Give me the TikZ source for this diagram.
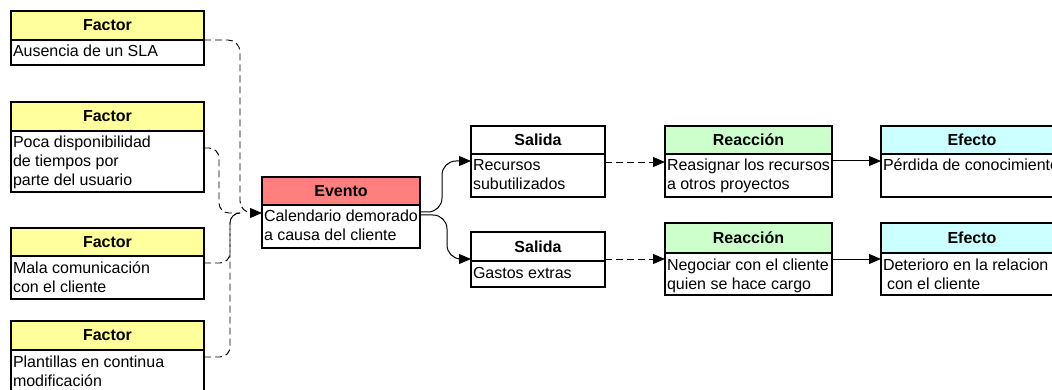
\documentclass[tikz,border=0pt]{standalone}
\usepackage{fontspec}
\setmainfont{Liberation Sans}
\usetikzlibrary{arrows.meta}

\definecolor{factorfill}{HTML}{FFFF9C}
\definecolor{eventfill}{HTML}{FF7F7F}
\definecolor{reactfill}{HTML}{CCFFCC}
\definecolor{effectfill}{HTML}{CCFFFF}

\tikzset{
  hdr/.style={draw=black, line width=1.3pt, inner sep=0pt, outer sep=0pt, anchor=north west,
              font=\fontsize{16pt}{19pt}\selectfont\bfseries},
  bdy/.style={draw=black, line width=1.3pt, fill=white, inner xsep=2pt, inner ysep=0pt,
              outer sep=0pt, anchor=north west, font=\fontsize{16pt}{19pt}\selectfont},
  link/.style={line width=1pt, -{Triangle[length=12pt,width=10pt]}},
  dashes/.style={line width=0.95pt, dash pattern=on 7pt off 4pt},
  dlink/.style={link, dashes},
}

% \infobox{name}{x}{y}{width}{header height}{body height}{fill}{title}{body text}
\newcommand\infobox[9]{%
  \node[hdr, fill=#7, minimum width=#4pt, minimum height=#5pt] (#1h) at (#2,#3) {#8};
  \node[bdy, minimum width=#4pt] (#1) at (#1h.south west)
    {\parbox[t][#6pt][t]{\dimexpr#4pt-4pt\relax}{\rule{0pt}{17pt}#9}};
}

\begin{document}
\begin{tikzpicture}[x=1pt, y=-1pt]
  \useasboundingbox (0,0) rectangle (1052,390);
  \clip (0,0) rectangle (1052,390);

  % factors
  \infobox{f1}{11}{11}{193}{29}{25}{factorfill}{Factor}{Ausencia de un SLA}
  \infobox{f2}{11}{102}{193}{29}{61}{factorfill}{Factor}{Poca disponibilidad\\de tiempos por\\parte del usuario}
  \infobox{f3}{11}{228}{193}{28}{43}{factorfill}{Factor}{Mala comunicación\\con el cliente}
  \infobox{f4}{11}{321}{193}{29}{60}{factorfill}{Factor}{Plantillas en continua\\modificación}

  % event
  \infobox{ev}{262}{177}{158}{28}{43}{eventfill}{Evento}{Calendario demorado\\a causa del cliente}

  % outputs
  \infobox{s1}{471}{126}{134}{28}{43}{white}{Salida}{Recursos\\subutilizados}
  \infobox{s2}{471}{232}{134}{29}{26}{white}{Salida}{Gastos extras}

  % reactions
  \infobox{r1}{665}{126}{167}{28}{43}{reactfill}{Reacción}{Reasignar los recursos\\a otros proyectos}
  \infobox{r2}{665}{223}{167}{30}{42}{reactfill}{Reacción}{Negociar con el cliente\\quien se hace cargo}

  % effects
  \infobox{e1}{881}{126}{182}{28}{43}{effectfill}{Efecto}{Pérdida de conocimiento}
  \infobox{e2}{881}{223}{182}{30}{42}{effectfill}{Efecto}{Deterioro en la relacion\\\hspace*{4pt}con el cliente}

  % junction points in front of the event
  \coordinate (in) at ([yshift=-8pt]ev.north west);
  \coordinate (j1) at ([xshift=-22pt]in);
  \coordinate (j2) at ([xshift=-43pt]in);
  \coordinate (j3) at ([xshift=-32pt]in);

  % factors -> event
  \draw[dlink, rounded corners=12pt] (f1.north east) -| (j1) -- (in);
  \draw[dashes, rounded corners=10pt] ([yshift=-17pt]f2.north east) -| (j2) -- (j1);
  \draw[dashes, rounded corners=10pt] ([yshift=-7pt]f3.north east) -| (j3) -- (j1);
  \draw[dashes, rounded corners=10pt] ([yshift=-7pt]f4.north east) -| (j3) -- (j1);

  % event -> outputs
  \coordinate (ea) at ([yshift=-7pt]ev.north east);
  \coordinate (eb) at ([yshift=-10pt]ev.north east);
  \coordinate (sa) at ([yshift=-7pt]s1.north west);
  \coordinate (sb) at ([yshift=2pt]s2.north west);
  \draw[link, rounded corners=14pt] (ea) -| ([xshift=22pt]ea |- sa) -- (sa);
  \draw[link, rounded corners=14pt] (eb) -| ([xshift=27pt]eb |- sb) -- (sb);

  % outputs -> reactions
  \draw[dlink] ([yshift=-8pt]s1.north east) -- ([yshift=-8pt]s1.north east -| r1.west);
  \draw[dlink] ([yshift=2pt]s2.north east) -- ([yshift=2pt]s2.north east -| r2.west);

  % reactions -> effects
  \draw[link] ([yshift=-7pt]r1.north east) -- ([yshift=-7pt]r1.north east -| e1.west);
  \draw[link] ([yshift=-6pt]r2.north east) -- ([yshift=-6pt]r2.north east -| e2.west);
\end{tikzpicture}
\end{document}
